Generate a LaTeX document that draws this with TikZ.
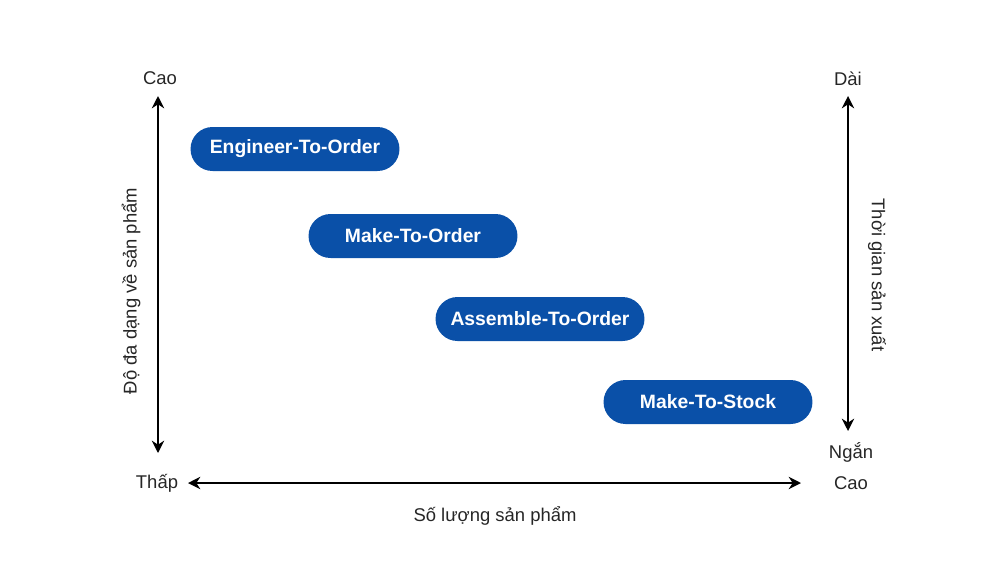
\documentclass[tikz,border=0pt]{standalone}
\usepackage{fontspec}
\setmainfont{Liberation Sans}
\usetikzlibrary{arrows.meta}
\definecolor{mblue}{RGB}{10,80,168}

\begin{document}
\begin{tikzpicture}[x=0.02cm,y=-0.02cm,
    box/.style={fill=mblue, text=white, font=\fontsize{11}{13}\selectfont\bfseries,
        minimum width=4.18cm, minimum height=0.88cm, rounded corners=0.44cm, inner sep=0pt},
    lbl/.style={font=\fontsize{10.5}{12}\selectfont, text=black!85, inner sep=1pt},
    axis/.style={line width=1.4pt, {Stealth[length=7pt,width=7pt]}-{Stealth[length=7pt,width=7pt]}}]

    \useasboundingbox (0,0) rectangle (1000,565);

    % the four strategies
    \foreach \x/\y/\t [count=\p] in {295/149/Engineer-To-Order, 413/236/Make-To-Order,
        540/319/Assemble-To-Order, 708/402/Make-To-Stock} {
        \node[box] (b\p) at (\x,\y) {\t};};

    % axis labels
    \node[lbl] (lhigh) at (160,78) {Cao};
    \node[lbl] (llow) at (157,483) {Thấp};
    \node[lbl] (rhigh) at (851,483) {Cao};
    \node[lbl] (rlong) at (848,79) {Dài};
    \node[lbl] (rshort) at (851,452) {Ngắn};
    \node[lbl] (qty) at (495,516) {Số lượng sản phẩm};
    \node[lbl, rotate=90] (var) at (131,291) {Độ đa dạng về sản phẩm};
    \node[lbl, rotate=-90] (time) at (877,275) {Thời gian sản xuất};

    % axes
    \coordinate (l1) at (158,96);
    \coordinate (l2) at (158,453);
    \coordinate (h1) at (188,483);
    \coordinate (h2) at (801,483);
    \coordinate (r1) at (848,96);
    \coordinate (r2) at (848,431);
    \draw[axis] (l1) -- (l2);
    \draw[axis] (h1) -- (h2);
    \draw[axis] (r1) -- (r2);

\end{tikzpicture}
\end{document}
